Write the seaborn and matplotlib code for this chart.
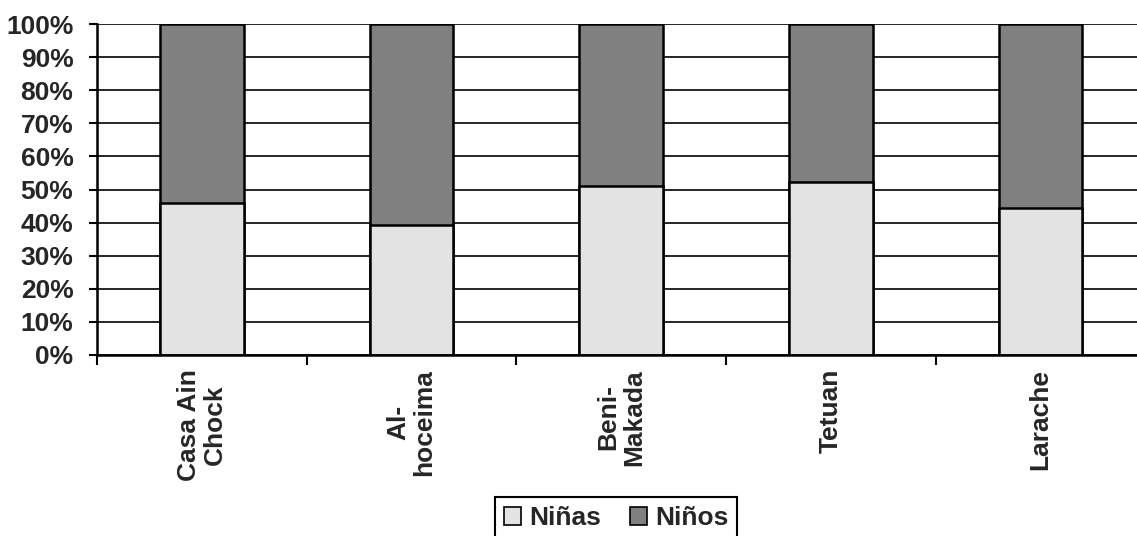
import matplotlib
matplotlib.use("Agg")
import matplotlib.pyplot as plt
from matplotlib.patches import Patch
from matplotlib.ticker import FixedLocator, PercentFormatter
import seaborn as sns
import pandas as pd

# Share of girls and boys per school zone (percent)
zonas = ["Casa Ain\nChock", "Al-\nhoceima", "Beni-\nMakada", "Tetuan", "Larache"]
ninas = [45.8, 39.3, 51.2, 52.4, 44.5]
ninos = [54.2, 60.7, 48.8, 47.6, 55.5]

df = pd.DataFrame({"zona": zonas, "Niñas": ninas, "Niños": ninos})
df["total"] = df["Niñas"] + df["Niños"]

sns.set_theme(style="white")
plt.rcParams["font.family"] = ["Liberation Sans", "DejaVu Sans"]
plt.rcParams["font.weight"] = "bold"

c_ninas = "#e3e3e3"
c_ninos = "#808080"
fs = 19

fig = plt.figure(figsize=(11.37, 5.36), dpi=100)
ax = fig.add_axes([97 / 1137, 1 - 355 / 536, 1 - 97 / 1137, (355 - 24) / 536])

ax.set_axisbelow(True)
ax.yaxis.grid(True, color="black", linewidth=1.2)
ax.xaxis.grid(False)

sns.barplot(data=df, x="zona", y="total", color=c_ninos, width=0.4,
            edgecolor="black", linewidth=1.8, saturation=1, ax=ax)
sns.barplot(data=df, x="zona", y="Niñas", color=c_ninas, width=0.4,
            edgecolor="black", linewidth=1.8, saturation=1, ax=ax)

ax.set_xlim(-0.5, 4.46)
ax.set_ylim(0, 100)
ax.set_yticks(range(0, 101, 10))
ax.yaxis.set_major_formatter(PercentFormatter(decimals=0))
ax.set_xlabel("")
ax.set_ylabel("")

for s in ["top", "right"]:
    ax.spines[s].set_visible(False)
for s in ["left", "bottom"]:
    ax.spines[s].set_color("black")
    ax.spines[s].set_linewidth(1.8)

ax.tick_params(axis="y", which="major", direction="out", length=6, width=1.5,
               color="black", labelsize=fs, pad=11, left=True)
ax.tick_params(axis="x", which="major", length=0, labelsize=fs, pad=10)
ax.xaxis.set_minor_locator(FixedLocator([-0.5, 0.5, 1.5, 2.5, 3.5]))
ax.tick_params(axis="x", which="minor", direction="out", length=7, width=1.5,
               color="black", bottom=True)

for lab in ax.get_xticklabels():
    lab.set_rotation(90)
    lab.set_fontweight("bold")
    lab.set_multialignment("center")
    lab.set_verticalalignment("top")
    lab.set_linespacing(1.1)
for lab in ax.get_yticklabels():
    lab.set_fontweight("bold")

handles = [Patch(facecolor=c_ninas, edgecolor="black", linewidth=1.2, label="Niñas"),
           Patch(facecolor=c_ninos, edgecolor="black", linewidth=1.2, label="Niños")]
leg = fig.legend(handles=handles, loc="upper center",
                 bbox_to_anchor=(616 / 1137, 1 - 497 / 536), ncol=2,
                 frameon=True, fancybox=False, framealpha=1,
                 prop={"weight": "bold", "size": fs},
                 handlelength=0.65, handleheight=0.65, handletextpad=0.3,
                 columnspacing=1.1, borderpad=0.35, borderaxespad=0)
leg.get_frame().set_edgecolor("black")
leg.get_frame().set_linewidth(1.5)

fig.savefig("out.png", dpi=100)
